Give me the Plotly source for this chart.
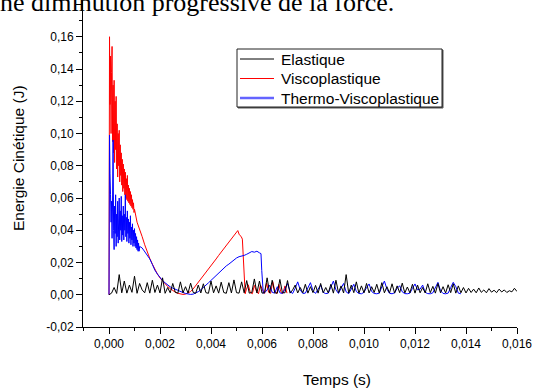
import numpy as np
import plotly.graph_objects as go

# ---------------- data (Energie cinétique, J) ----------------
# Elastique : sampled every 0.1 ms from 0 to 16 ms
elastique_t0 = 0.0
elastique_dt = 0.0001
elastique_e = [
    0.0000, 0.0010, 0.0045, 0.0008, 0.0125, 0.0012, 0.0085, 0.0010, 0.0060, 0.0015,
    0.0115, 0.0009, 0.0070, 0.0030, 0.0012, 0.0075, 0.0010, 0.0090, 0.0014, 0.0060,
    0.0011, 0.0105, 0.0009, 0.0045, 0.0012, 0.0070, 0.0015, 0.0010, 0.0080, 0.0012,
    0.0050, 0.0010, 0.0072, 0.0015, 0.0009, 0.0060, 0.0011, 0.0068, 0.0013, 0.0009,
    0.0085, 0.0012, 0.0055, 0.0010, 0.0078, 0.0014, 0.0009, 0.0075, 0.0011, 0.0092,
    0.0013, 0.0010, 0.0080, 0.0012, 0.0088, 0.0010, 0.0014, 0.0098, 0.0011, 0.0085,
    0.0010, 0.0013, 0.0105, 0.0011, 0.0090, 0.0012, 0.0010, 0.0095, 0.0013, 0.0012,
    0.0088, 0.0010, 0.0030, 0.0060, 0.0011, 0.0045, 0.0012, 0.0065, 0.0010, 0.0050,
    0.0013, 0.0058, 0.0010, 0.0070, 0.0012, 0.0045, 0.0011, 0.0065, 0.0010, 0.0090,
    0.0012, 0.0055, 0.0011, 0.0125, 0.0010, 0.0060, 0.0013, 0.0080, 0.0010, 0.0055,
    0.0012, 0.0070, 0.0011, 0.0050, 0.0014, 0.0065, 0.0010, 0.0075, 0.0012, 0.0050,
    0.0011, 0.0068, 0.0010, 0.0055, 0.0013, 0.0072, 0.0011, 0.0048, 0.0012, 0.0065,
    0.0010, 0.0060, 0.0012, 0.0045, 0.0011, 0.0068, 0.0013, 0.0052, 0.0010, 0.0070,
    0.0012, 0.0050, 0.0011, 0.0062, 0.0013, 0.0068, 0.0010, 0.0055, 0.0012, 0.0045,
    0.0011, 0.0040, 0.0014, 0.0035, 0.0012, 0.0042, 0.0015, 0.0030, 0.0012, 0.0038,
    0.0016, 0.0028, 0.0013, 0.0035, 0.0017, 0.0030, 0.0014, 0.0025, 0.0018, 0.0040,
    0.0020,
]

# Viscoplastique
visco_early_t0 = 0.0
visco_early_dt = 0.00002
visco_early_e = [
    0.000, 0.160, 0.118, 0.148, 0.100, 0.138, 0.154, 0.095, 0.130, 0.088,
    0.133, 0.082, 0.120, 0.090, 0.123, 0.078, 0.106, 0.073, 0.100, 0.080,
    0.102, 0.070, 0.093, 0.074, 0.088, 0.068, 0.084, 0.064, 0.081, 0.066,
    0.078, 0.062, 0.076, 0.060, 0.072, 0.059, 0.074, 0.058, 0.068, 0.057,
    0.066, 0.056, 0.064, 0.055, 0.062, 0.054, 0.059, 0.053, 0.057, 0.051,
    0.053,
]
visco_mid_t0 = 0.0011
visco_mid_dt = 0.0001
visco_mid_e = [
    0.0450, 0.0410, 0.0360, 0.0310, 0.0265, 0.0225, 0.0190, 0.0157, 0.0128, 0.0104,
    0.0084, 0.0066, 0.0051, 0.0038, 0.0026, 0.0016, 0.0009, 0.0004, 0.0002, 0.0004,
    0.0010, 0.0020, 0.0036, 0.0056, 0.0077, 0.0097, 0.0117, 0.0137, 0.0158, 0.0179,
    0.0200, 0.0222, 0.0244, 0.0265, 0.0287, 0.0308, 0.0329, 0.0350, 0.0370, 0.0390,
]
visco_drop_t = [0.00505, 0.00511, 0.00518, 0.00523, 0.00527, 0.00531, 0.00534]
visco_drop_e = [0.0398, 0.0372, 0.0362, 0.0345, 0.0232, 0.0090, 0.0006]
visco_late_t0 = 0.00538
visco_late_dt = 0.00008
visco_late_e = [
    0.0030, 0.0062, 0.0015, 0.0006, 0.0058, 0.0022, 0.0006, 0.0060, 0.0030, 0.0008,
    0.0072, 0.0015, 0.0009, 0.0082, 0.0024, 0.0007, 0.0064, 0.0018, 0.0008, 0.0055,
    0.0010,
]

# Thermo-Viscoplastique
thermo_early_t0 = 0.0
thermo_early_dt = 0.00002
thermo_early_e = [
    0.000, 0.099, 0.075, 0.062, 0.045, 0.058, 0.035, 0.060, 0.096, 0.040,
    0.028, 0.055, 0.038, 0.062, 0.030, 0.050, 0.036, 0.058, 0.032, 0.047,
    0.060, 0.034, 0.052, 0.040, 0.061, 0.033, 0.049, 0.037, 0.055, 0.034,
    0.050, 0.040, 0.062, 0.036, 0.048, 0.033, 0.052, 0.038, 0.047, 0.032,
    0.045, 0.035, 0.049, 0.031, 0.042, 0.034, 0.044, 0.030, 0.040, 0.032,
    0.041, 0.030, 0.038, 0.029, 0.036, 0.028, 0.034, 0.027, 0.032, 0.027,
    0.030,
]
thermo_mid_t0 = 0.0013
thermo_mid_dt = 0.0001
thermo_mid_e = [
    0.0290, 0.0268, 0.0250, 0.0222, 0.0188, 0.0152, 0.0128, 0.0106, 0.0088, 0.0074,
    0.0060, 0.0049, 0.0041, 0.0033, 0.0026, 0.0020, 0.0014, 0.0008, 0.0004, 0.0002,
    0.0004, 0.0010, 0.0019, 0.0031, 0.0044, 0.0058, 0.0074, 0.0089, 0.0104, 0.0119,
    0.0136, 0.0152, 0.0166, 0.0179, 0.0190, 0.0204, 0.0216, 0.0228, 0.0236, 0.0239,
    0.0244, 0.0251, 0.0260, 0.0268, 0.0264, 0.0270, 0.0260,
]
thermo_drop_t = [0.00596, 0.00599, 0.00602, 0.00605]
thermo_drop_e = [0.0255, 0.0150, 0.0030, 0.0010]
thermo_late_t0 = 0.0061
thermo_late_dt = 0.0001
thermo_late_e = [
    0.0012, 0.0030, 0.0060, 0.0015, 0.0010, 0.0050, 0.0012, 0.0008, 0.0035, 0.0070,
    0.0020, 0.0008, 0.0040, 0.0080, 0.0030, 0.0008, 0.0010, 0.0045, 0.0075, 0.0025,
    0.0008, 0.0035, 0.0060, 0.0015, 0.0007, 0.0010, 0.0050, 0.0085, 0.0030, 0.0008,
    0.0040, 0.0070, 0.0018, 0.0007, 0.0035, 0.0065, 0.0020, 0.0008, 0.0006, 0.0015,
    0.0045, 0.0067, 0.0020, 0.0008, 0.0006, 0.0010, 0.0050, 0.0085, 0.0035, 0.0009,
    0.0006, 0.0012, 0.0040, 0.0056, 0.0018, 0.0007, 0.0006, 0.0010, 0.0040, 0.0067,
    0.0030, 0.0035, 0.0060, 0.0015, 0.0007, 0.0006, 0.0012, 0.0050, 0.0077, 0.0025,
    0.0008, 0.0006, 0.0010, 0.0045, 0.0077, 0.0050, 0.0010, 0.0006,
]

series_names = ["Elastique", "Viscoplastique", "Thermo-Viscoplastique"]
x_tick_vals = [0.000, 0.002, 0.004, 0.006, 0.008, 0.010, 0.012, 0.014, 0.016]
x_tick_labels = ["0,000", "0,002", "0,004", "0,006", "0,008", "0,010", "0,012", "0,014", "0,016"]
y_tick_vals = [-0.02, 0.00, 0.02, 0.04, 0.06, 0.08, 0.10, 0.12, 0.14, 0.16, 0.18]
y_tick_labels = ["-0,02", "0,00", "0,02", "0,04", "0,06", "0,08", "0,10", "0,12", "0,14", "0,16", ""]
x_title = "Temps (s)"
y_title = "Energie Cinétique (J)"
page_text = "une diminution progressive de la force."


def seg(t0, dt, vals):
    return t0 + dt * np.arange(len(vals))


el_t = seg(elastique_t0, elastique_dt, elastique_e)
el_e = np.array(elastique_e)
vi_t = np.concatenate([seg(visco_early_t0, visco_early_dt, visco_early_e),
                       seg(visco_mid_t0, visco_mid_dt, visco_mid_e),
                       np.array(visco_drop_t),
                       seg(visco_late_t0, visco_late_dt, visco_late_e)])
vi_e = np.concatenate([visco_early_e, visco_mid_e, visco_drop_e, visco_late_e])
th_t = np.concatenate([seg(thermo_early_t0, thermo_early_dt, thermo_early_e),
                       seg(thermo_mid_t0, thermo_mid_dt, thermo_mid_e),
                       np.array(thermo_drop_t),
                       seg(thermo_late_t0, thermo_late_dt, thermo_late_e)])
th_e = np.concatenate([thermo_early_e, thermo_mid_e, thermo_drop_e, thermo_late_e])

FONT = "Liberation Sans, Arial, sans-serif"

# page geometry (pixels) -> paper coordinates
W, H = 533, 388
ML, MR, MT, MB = 83, 16, 0, 61
PW, PH = W - ML - MR, H - MT - MB


def px(x):
    return (x - ML) / PW


def py(y):
    return (H - MB - y) / PH


fig = go.Figure()
fig.add_trace(go.Scatter(x=vi_t, y=vi_e, mode="lines", line=dict(color="#ff0000", width=1),
                         name=series_names[1], showlegend=False))
fig.add_trace(go.Scatter(x=th_t, y=th_e, mode="lines", line=dict(color="#0000ff", width=1),
                         name=series_names[2], showlegend=False))
fig.add_trace(go.Scatter(x=el_t, y=el_e, mode="lines", line=dict(color="#000000", width=1),
                         name=series_names[0], showlegend=False))

axis_common = dict(showline=True, linecolor="black", linewidth=1, ticks="outside",
                   ticklen=6, tickwidth=1, tickcolor="black", showgrid=False, zeroline=False,
                   tickfont=dict(family=FONT, size=12, color="black"))

# hand-drawn legend box (as in the reference)
leg_colors = ["#000000", "#ff0000", "#6464ff"]
leg_widths = [1, 1, 2.5]
leg_rows = [59, 78.5, 98]
shapes = [
    dict(type="rect", xref="paper", yref="paper", x0=px(238), x1=px(443), y0=py(50), y1=py(108),
         line=dict(color="#555", width=1), fillcolor="#555", layer="above"),
    dict(type="rect", xref="paper", yref="paper", x0=px(237), x1=px(442), y0=py(49), y1=py(107),
         line=dict(color="#222", width=1), fillcolor="white", layer="above"),
]
annotations = []
for name, c, w, ry in zip(series_names, leg_colors, leg_widths, leg_rows):
    shapes.append(dict(type="line", xref="paper", yref="paper", x0=px(240), x1=px(274),
                       y0=py(ry), y1=py(ry), line=dict(color=c, width=w), layer="above"))
    annotations.append(dict(text=name, xref="paper", yref="paper", x=px(279), y=py(ry),
                            xanchor="left", yanchor="middle", showarrow=False,
                            font=dict(family=FONT, size=15.5, color="black")))

annotations += [
    dict(text=x_title, xref="paper", yref="paper", x=px(336.7), y=0,
         xanchor="center", yanchor="top", yshift=-42, showarrow=False,
         font=dict(family=FONT, size=15.5, color="black")),
    dict(text=y_title, xref="paper", yref="paper", x=px(18.5), y=py(158.5),
         xanchor="center", yanchor="middle", textangle=-90,
         showarrow=False, font=dict(family=FONT, size=15.5, color="black")),
    dict(text=page_text, xref="paper", yref="paper", x=0, y=1, xanchor="left",
         yanchor="bottom", xshift=-98, yshift=-19, showarrow=False,
         font=dict(family="Liberation Serif, Times New Roman, serif", size=26,
                   color="black")),
]

fig.update_layout(
    width=W, height=H,
    margin=dict(l=ML, r=MR, t=MT, b=MB),
    paper_bgcolor="white", plot_bgcolor="white",
    font=dict(family=FONT, color="black"),
    xaxis=dict(range=[-0.00102, 0.016], tickmode="array", tickvals=x_tick_vals,
               ticktext=x_tick_labels,
               minor=dict(tickmode="linear", tick0=0, dtick=0.001, ticks="outside",
                          ticklen=3, tickcolor="black", showgrid=False),
               **axis_common),
    yaxis=dict(range=[-0.02, 0.1828], tickmode="array", tickvals=y_tick_vals,
               ticktext=y_tick_labels,
               minor=dict(tickmode="linear", tick0=0, dtick=0.01, ticks="outside",
                          ticklen=3, tickcolor="black", showgrid=False),
               **axis_common),
    showlegend=False,
    shapes=shapes,
    annotations=annotations,
)

fig.write_html("out.html")
